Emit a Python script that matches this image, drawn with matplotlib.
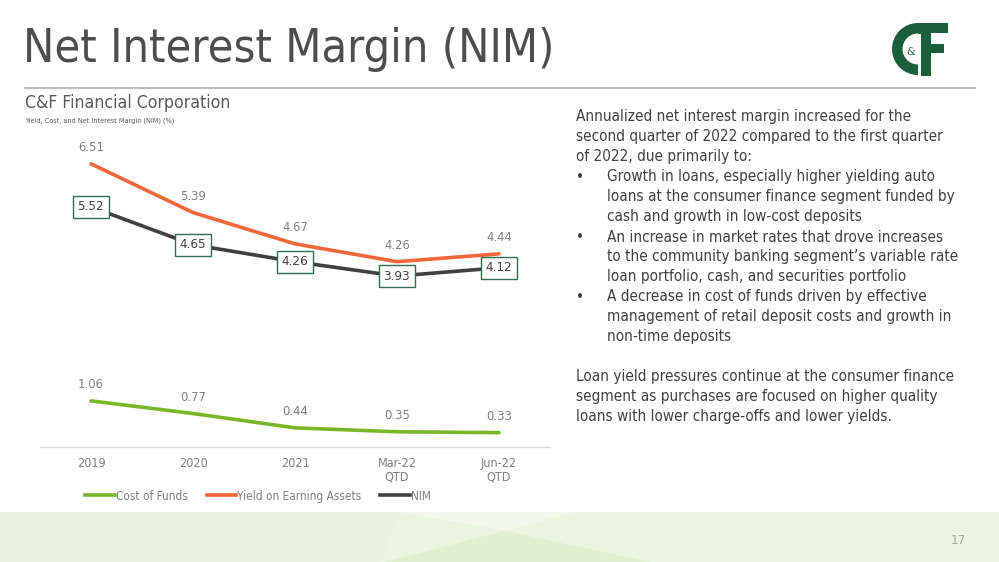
import matplotlib
matplotlib.use("Agg")
import matplotlib.pyplot as plt
from matplotlib.patches import Rectangle, Polygon, Wedge
from matplotlib.lines import Line2D

plt.rcParams["font.family"] = ["DejaVu Sans"]
plt.rcParams["font.stretch"] = "condensed"

categories = ["2019", "2020", "2021", "Mar-22\nQTD", "Jun-22\nQTD"]
cost_of_funds = [1.06, 0.77, 0.44, 0.35, 0.33]
yield_earning = [6.51, 5.39, 4.67, 4.26, 4.44]
nim = [5.52, 4.65, 4.26, 3.93, 4.12]

series_names = ["Cost of Funds", "Yield on Earning Assets", "NIM"]
GREEN = "#78b828"
ORANGE = "#f2673a"
DARK = "#404040"
LOGO = "#1b5e3b"
GRAY_TXT = "#7f7f7f"
FS = dict(family="DejaVu Sans", stretch="condensed")

W, H = 999, 562
fig = plt.figure(figsize=(W / 100, H / 100), dpi=100)
fig.patch.set_facecolor("white")

# background axes in pixel coords
bg = fig.add_axes([0, 0, 1, 1], zorder=0)
bg.set_xlim(0, W)
bg.set_ylim(H, 0)
bg.axis("off")

# bottom band
bg.add_patch(Rectangle((0, 512), W, 50, color="#e9f5df", lw=0))
bg.add_patch(Polygon([[0, 512], [400, 512], [380, 562], [0, 562]], color="#e7f3dc", lw=0))
bg.add_patch(Polygon([[400, 512], [575, 512], [505, 531]], color="#f2f9ec", lw=0))
bg.add_patch(Polygon([[385, 562], [505, 531], [650, 562]], color="#dfefd0", lw=0))
bg.text(958, 540, "17", fontsize=9.5, color="#a6a6a6", ha="center", va="center", **FS)

# title and rule
bg.text(23, 49, "Net Interest Margin (NIM)", fontsize=33.6, color="#4d4d4d",
        ha="left", va="center", **FS)
bg.plot([25, 975], [87.5, 87.5], color="#bfbfbf", lw=1.5)
bg.text(25, 103, "C&F Financial Corporation", fontsize=12.7, color="#595959",
        ha="left", va="center", **FS)
bg.text(25, 121, "Yield, Cost, and Net Interest Margin (NIM) (%)", fontsize=5.2,
        color="#595959", ha="left", va="center", **FS)

# logo (drawn shapes)
bg.add_patch(Wedge((918, 49), 26, 90, 270, width=10.5, color=LOGO, lw=0))
bg.add_patch(Rectangle((918, 23), 4, 10.5, color=LOGO, lw=0))
bg.add_patch(Rectangle((921, 23), 10, 53, color=LOGO, lw=0))
bg.add_patch(Rectangle((921, 23), 27, 10, color=LOGO, lw=0))
bg.add_patch(Rectangle((921, 44), 23, 9, color=LOGO, lw=0))
bg.text(911, 52, "&", fontsize=8, color=LOGO, ha="center", va="center",
        family="DejaVu Serif")

# right-hand text
body = [
    (576, "Annualized net interest margin increased for the"),
    (576, "second quarter of 2022 compared to the first quarter"),
    (576, "of 2022, due primarily to:"),
    (607, "Growth in loans, especially higher yielding auto"),
    (607, "loans at the consumer finance segment funded by"),
    (607, "cash and growth in low-cost deposits"),
    (607, "An increase in market rates that drove increases"),
    (607, "to the community banking segment\u2019s variable rate"),
    (607, "loan portfolio, cash, and securities portfolio"),
    (607, "A decrease in cost of funds driven by effective"),
    (607, "management of retail deposit costs and growth in"),
    (607, "non-time deposits"),
    (576, ""),
    (576, "Loan yield pressures continue at the consumer finance"),
    (576, "segment as purchases are focused on higher quality"),
    (576, "loans with lower charge-offs and lower yields."),
]
bullets = {3, 6, 9}
for i, (x, line) in enumerate(body):
    y = 117 + 20 * i
    if line:
        bg.text(x, y, line, fontsize=11, color=DARK, ha="left", va="center", **FS)
    if i in bullets:
        bg.text(576, y, "\u2022", fontsize=11, color=DARK, ha="left", va="center", **FS)

# chart axes
left, right, bottom_px, top_px = 40, 550, 447, 142.5
ax = fig.add_axes([left / W, (H - bottom_px) / H, (right - left) / W,
                   (bottom_px - top_px) / H], zorder=1)
ax.patch.set_alpha(0)
x = list(range(len(categories)))
ax.set_xlim(-0.5, len(categories) - 0.5)
ax.set_ylim(0, 7)

ax.plot(x, cost_of_funds, color=GREEN, lw=2.6, solid_capstyle="round", zorder=3)
ax.plot(x, yield_earning, color=ORANGE, lw=2.6, solid_capstyle="round", zorder=3)
ax.plot(x, nim, color=DARK, lw=2.6, solid_capstyle="round", zorder=3)

for series in (yield_earning, cost_of_funds):
    for xi, v in zip(x, series):
        ax.annotate(f"{v:.2f}", (xi, v), xytext=(0, 11.5), textcoords="offset points",
                    ha="center", va="center", fontsize=9.3, color=GRAY_TXT, **FS)
for xi, v in zip(x, nim):
    ax.text(xi, v, f"{v:.2f}", ha="center", va="center", fontsize=9.6, color=DARK,
            zorder=5, **FS,
            bbox=dict(boxstyle="square,pad=0.34", fc="white", ec="#2f6e50", lw=1))

for s in ["top", "right", "left"]:
    ax.spines[s].set_visible(False)
ax.spines["bottom"].set_color("#d9d9d9")
ax.spines["bottom"].set_linewidth(1)
ax.set_yticks([])
ax.set_xticks(x)
ax.set_xticklabels(categories, fontsize=9, color=GRAY_TXT, linespacing=1.0, **FS)
ax.tick_params(axis="x", length=0, pad=7.5)

handles = [Line2D([0], [0], color=c, lw=2.6) for c in (GREEN, ORANGE, DARK)]
leg = fig.legend(handles, series_names, loc="center", bbox_to_anchor=(258 / W, 1 - 496 / H),
                 ncol=3, frameon=False, handlelength=2.5, handletextpad=0.1,
                 columnspacing=1.6,
                 prop={"family": "DejaVu Sans", "stretch": "condensed", "size": 8.5})
for t in leg.get_texts():
    t.set_color(GRAY_TXT)

fig.savefig("out.png", dpi=100)
